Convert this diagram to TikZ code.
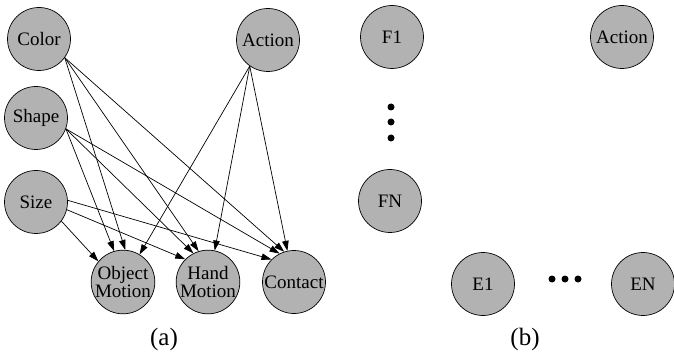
\documentclass[tikz,border=0pt]{standalone}
\usepackage{fontspec}
\setmainfont{Liberation Serif}
\usetikzlibrary{arrows.meta}
\tikzset{
  var/.style={circle,draw=black,fill=black!30,line width=0.7pt,minimum size=63pt,inner sep=0pt,
    font=\fontsize{19}{17.5}\selectfont,align=center},
  edge/.style={line width=0.7pt,-{Triangle[length=10pt,width=6.5pt]}},
  captxt/.style={font=\fontsize{25}{25}\selectfont},
  bigdot/.style={circle,fill=black,inner sep=0pt,minimum size=7pt}
}
\begin{document}
\begin{tikzpicture}[x=1pt,y=-1pt]
\useasboundingbox (0,0) rectangle (674,355);
% panel (a)
\node[var] (color) at (39,39) {Color};
\node[var] (shape) at (36,118) {Shape};
\node[var] (size) at (36,202) {Size};
\node[var] (action) at (268,40) {Action};
\node[var] (om) at (123,282) {Object\\Motion};
\node[var] (hm) at (208,282) {Hand\\Motion};
\node[var] (ct) at (294,282) {Contact};
\draw[edge] (color.-36) -- (om.86);
\draw[edge] (color.-36) -- (hm.107);
\draw[edge] (color.-36) -- (ct.108);
\draw[edge] (shape.-20) -- (om.106);
\draw[edge] (shape.-20) -- (hm.117);
\draw[edge] (shape.-20) -- (ct.117);
\draw[edge] (size.-37) -- (om.140);
\draw[edge] (size.-14) -- (hm.135);
\draw[edge] (size.3) -- (ct.135);
\draw[edge] (action.-125) -- (om.59);
\draw[edge] (action.-125) -- (hm.78);
\draw[edge] (action.-125) -- (ct.102);
\node[captxt] (capa) at (164,339) {(a)};
% panel (b)
\node[var] (f1) at (392,37) {F1};
\node[var] (action2) at (622,37) {Action};
\node[var] (fn) at (390,201) {FN};
\node[var] (e1) at (483,284) {E1};
\node[var] (en) at (643,284) {EN};
\node[bigdot] (v1) at (391,107) {};
\node[bigdot] (v2) at (391,122) {};
\node[bigdot] (v3) at (391,138) {};
\node[bigdot] (h1) at (552,279) {};
\node[bigdot] (h2) at (565,279) {};
\node[bigdot] (h3) at (578,279) {};
\node[captxt] (capb) at (525,339) {(b)};
\end{tikzpicture}
\end{document}
